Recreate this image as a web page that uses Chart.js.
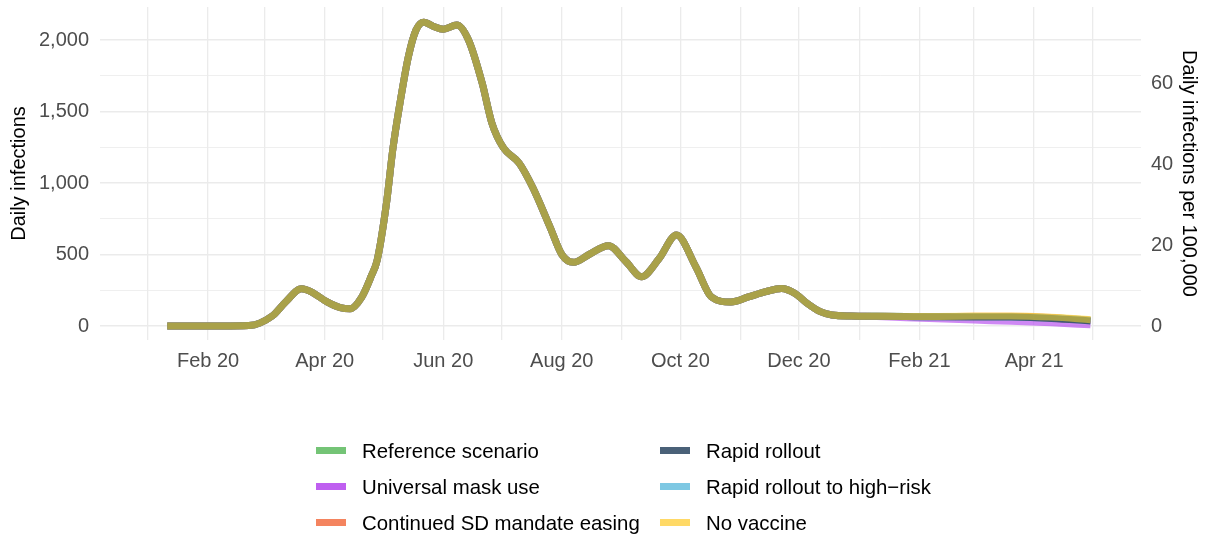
<!DOCTYPE html>
<html lang="en">
<head>
    <meta charset="UTF-8">
    <title>Daily infections by scenario</title>
    <script src="https://cdn.jsdelivr.net/npm/chart.js"></script>
    <style>
        body { margin: 0; background: #fff; font-family: "Liberation Sans", Arial, sans-serif; }
        .chart-container { position: relative; width: 1205px; height: 390px; }
        #legend { position: absolute; left: 0; top: 0; width: 1205px; height: 537px; pointer-events: none; }
        .key { position: absolute; font-size: 20.4px; color: #000; line-height: 24px; white-space: nowrap; }
        .key span.sw { position: absolute; width: 30px; height: 7px; top: 8px; }
        .key span.tx { position: absolute; white-space: nowrap; }
    </style>
</head>
<body>
    <div class="chart-container"><canvas id="chart"></canvas></div>
    <div id="legend"></div>

    <script>
        // curve shared by every scenario up to the end of 2020
        const earlyDates = [
            '2020-01-11', '2020-01-25', '2020-02-08', '2020-02-22', '2020-03-05', '2020-03-12',
            '2020-03-20', '2020-03-26', '2020-04-02', '2020-04-09', '2020-04-14', '2020-04-20',
            '2020-04-25', '2020-04-28', '2020-05-03', '2020-05-06', '2020-05-10', '2020-05-14',
            '2020-05-18', '2020-05-22', '2020-05-27', '2020-06-01', '2020-06-08', '2020-06-14',
            '2020-06-21', '2020-06-26', '2020-07-02', '2020-07-10', '2020-07-17', '2020-07-26',
            '2020-08-01', '2020-08-07', '2020-08-15', '2020-08-25', '2020-09-03', '2020-09-11',
            '2020-09-20', '2020-09-29', '2020-10-09', '2020-10-17', '2020-10-27', '2020-11-05',
            '2020-11-14', '2020-11-22', '2020-11-29', '2020-12-05', '2020-12-12', '2020-12-18',
            '2020-12-28'
        ];
        const earlyValues = [
            0, 0, 0, 3, 70, 170,
            260, 232, 170, 128, 120, 200,
            350, 460, 880, 1230, 1580, 1880,
            2070, 2125, 2095, 2075, 2105, 2000,
            1700, 1420, 1245, 1140, 970, 690,
            500, 445, 500, 562, 450, 345,
            470, 636, 413, 203, 168, 203,
            240, 263, 228, 161, 100, 77,
            70
        ];

        // scenarios split apart in 2021
        const lateDates = ['2021-01-10', '2021-01-25', '2021-02-10', '2021-03-01', '2021-03-20', '2021-04-10', '2021-04-30'];
        const referenceLate = [68, 66, 65, 66, 66, 58, 40];
        const maskLate      = [66, 58, 50, 41, 33, 22, 8];
        const easingLate    = [68, 66, 66, 68, 68, 60, 41];
        const rapidLate     = [68, 66, 64, 63, 62, 53, 35];
        const highRiskLate  = [68, 66, 64, 64, 63, 55, 37];
        const noVaccineLate = [68, 67, 67, 69, 70, 62, 44];

        const seriesNames = ['Reference scenario', 'Universal mask use', 'Continued SD mandate easing',
                             'Rapid rollout', 'Rapid rollout to high\u2212risk', 'No vaccine'];

        const monthTicks = ['2020-01-01', '2020-02-01', '2020-03-01', '2020-04-01', '2020-05-01', '2020-06-01',
                            '2020-07-01', '2020-08-01', '2020-09-01', '2020-10-01', '2020-11-01', '2020-12-01',
                            '2021-01-01', '2021-02-01', '2021-03-01', '2021-04-01', '2021-05-01'];
        const monthLabels = ['', 'Feb 20', '', 'Apr 20', '', 'Jun 20', '', 'Aug 20', '', 'Oct 20', '', 'Dec 20',
                             '', 'Feb 21', '', 'Apr 21', ''];
        const leftTicks = [0, 250, 500, 750, 1000, 1250, 1500, 1750, 2000];
        const rightTicks = [0, 20, 40, 60];

        const keyColors  = ['#74C476', '#BF5FF0', '#F4845F', '#4A6178', '#7EC8E3', '#FFD966'];
        const lineColors = ['rgba(116,196,118,0.7)', 'rgba(185,85,240,0.7)', 'rgba(244,120,80,0.7)',
                            'rgba(50,75,100,0.85)', 'rgba(110,195,225,0.7)', 'rgba(255,220,40,0.55)'];
        const drawOrder  = [5, 4, 3, 1, 2, 0];   // lower = drawn on top

        const perHundredK = 28.32;   // infections per 1 per 100,000
        const yMin = -98, yMax = 2231;
        const xMin = -24.6, xMax = 511;

        function dayOf(s) {
            const p = s.split('-').map(Number);
            return (Date.UTC(p[0], p[1] - 1, p[2]) - Date.UTC(2020, 0, 1)) / 86400000;
        }

        function makeSeries(late) {
            const dates = earlyDates.concat(lateDates);
            const vals = earlyValues.concat(late);
            return dates.map((d, i) => ({ x: dayOf(d), y: vals[i] }));
        }

        function noPad(axis) {
            axis.paddingTop = 0; axis.paddingBottom = 0;
            axis.paddingLeft = 0; axis.paddingRight = 0;
        }

        const lates = [referenceLate, maskLate, easingLate, rapidLate, highRiskLate, noVaccineLate];
        const tickFont = { family: '"Liberation Sans", Arial, sans-serif', size: 20 };
        const grey = '#4D4D4D';

        new Chart(document.getElementById('chart').getContext('2d'), {
            type: 'line',
            data: {
                datasets: seriesNames.map((name, i) => ({
                    label: name,
                    data: makeSeries(lates[i]),
                    borderColor: lineColors[i],
                    borderWidth: 7,
                    pointRadius: 0,
                    cubicInterpolationMode: 'monotone',
                    fill: false,
                    order: drawOrder[i]
                }))
            },
            options: {
                responsive: true,
                maintainAspectRatio: false,
                animation: false,
                layout: { padding: { top: 7, left: 0, right: 0, bottom: 0 } },
                plugins: { legend: { display: false }, tooltip: { enabled: false } },
                scales: {
                    x: {
                        type: 'linear',
                        min: xMin, max: xMax,
                        afterBuildTicks: axis => { axis.ticks = monthTicks.map(d => ({ value: dayOf(d) })); },
                        afterFit: axis => { axis.height = 50; noPad(axis); },
                        ticks: {
                            autoSkip: false, maxRotation: 0, padding: 9, color: grey, font: tickFont,
                            callback: (v, i) => monthLabels[i]
                        },
                        grid: { color: '#EBEBEB', lineWidth: 1.3, drawTicks: false },
                        border: { display: false }
                    },
                    y: {
                        position: 'left',
                        min: yMin, max: yMax,
                        afterBuildTicks: axis => { axis.ticks = leftTicks.map(v => ({ value: v })); },
                        afterFit: axis => { axis.width = 100; noPad(axis); },
                        ticks: {
                            padding: 11, color: grey, font: tickFont,
                            callback: v => v % 500 === 0 ? v.toLocaleString('en-US') : ''
                        },
                        grid: {
                            color: '#EBEBEB', drawTicks: false,
                            lineWidth: c => (c.tick && c.tick.value % 500 === 0) ? 1.4 : 0.8
                        },
                        border: { display: false },
                        title: { display: true, text: 'Daily infections', color: '#000', font: tickFont, padding: { top: 7, bottom: 0 } }
                    },
                    y2: {
                        position: 'right',
                        min: yMin / perHundredK, max: yMax / perHundredK,
                        afterBuildTicks: axis => { axis.ticks = rightTicks.map(v => ({ value: v })); },
                        afterFit: axis => { axis.width = 64; noPad(axis); },
                        ticks: { padding: 10, color: grey, font: tickFont },
                        grid: { display: false, drawTicks: false },
                        border: { display: false },
                        title: { display: true, text: 'Daily infections per 100,000', color: '#000', font: tickFont, padding: { top: 4, bottom: 0 } }
                    }
                }
            }
        });

        // legend: two columns of three
        const legend = document.getElementById('legend');
        const colX = [316, 660];
        const rowY = [451, 487, 523];
        seriesNames.forEach((name, i) => {
            const col = Math.floor(i / 3), row = i % 3;
            const key = document.createElement('div');
            key.className = 'key';
            key.style.left = colX[col] + 'px';
            key.style.top = (rowY[row] - 12) + 'px';
            key.innerHTML = '<span class="sw" style="background:' + keyColors[i] + '"></span>' +
                            '<span class="tx" style="left:46px">' + name + '</span>';
            legend.appendChild(key);
        });
    </script>
</body>
</html>
